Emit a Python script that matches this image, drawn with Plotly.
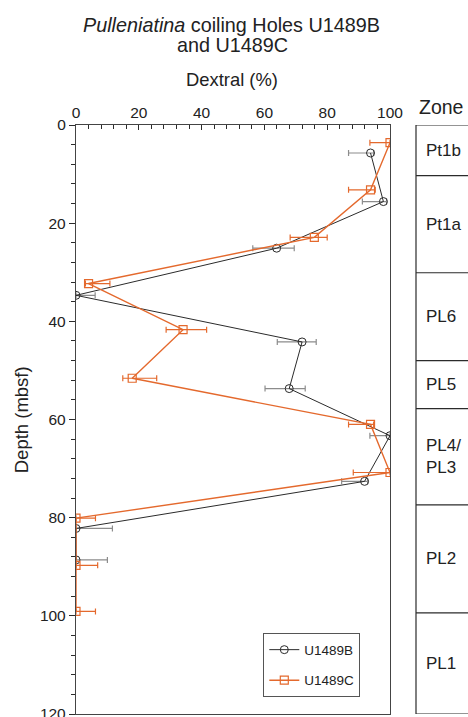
import plotly.graph_objects as go

# Hole U1489B
depth_b = [5.7, 15.6, 25.1, 34.7, 44.2, 53.7, 63.3, 72.6, 82.2, 88.6]
dextral_b = [93.8, 97.9, 63.9, 0, 72.0, 67.9, 100, 91.9, 0, 0]
err_minus_b = [7.0, 6.7, 7.6, 0, 7.9, 7.7, 6.4, 7.3, 0, 0]
err_plus_b = [1.0, 1.0, 5.6, 6.1, 4.5, 5.1, 0, 1.0, 11.6, 10.0]

# Hole U1489C
depth_c = [3.6, 13.2, 22.9, 32.3, 41.7, 51.6, 61.0, 70.8, 80.1, 89.7, 99.1]
dextral_c = [100, 93.8, 75.9, 4.0, 34.1, 17.9, 93.8, 100, 0, 0, 0]
err_minus_c = [6.4, 7.0, 7.7, 1.0, 5.4, 3.0, 7.0, 11.7, 0, 0, 0]
err_plus_c = [0, 1.5, 4.1, 6.8, 7.5, 7.8, 1.0, 0, 6.2, 6.9, 6.2]

# Biostratigraphic zones (top, bottom in mbsf)
zone_names = ["Pt1b", "Pt1a", "PL6", "PL5", "PL4/<br>PL3", "PL2", "PL1"]
zone_tops = [0, 10.3, 30.1, 48.0, 57.8, 77.4, 99.4]
zone_bottoms = [10.3, 30.1, 48.0, 57.8, 77.4, 99.4, 120]

x_ticks = [0, 20, 40, 60, 80, 100]
y_ticks = [0, 20, 40, 60, 80, 100, 120]

BLACK = "#2b2b2b"
ORANGE = "#e4692d"
GRAY = "#8c8c8c"
TEXT = "#222"
FONT = "Liberation Sans, Arial, sans-serif"

W, H = 468, 717
ML, MT, MB = 76, 124.5, 3
PW = W - ML                 # paper width in px
PH = H - MT - MB            # paper height in px


def px_x(px):
    return (px - ML) / PW


def px_y(py):
    return 1 + (MT - py) / PH


fig = go.Figure()

fig.add_trace(go.Scatter(
    x=dextral_b, y=depth_b, name="U1489B", mode="lines+markers",
    line=dict(color=BLACK, width=1),
    marker=dict(symbol="circle-open", size=8, color=BLACK, line=dict(width=1)),
    error_x=dict(type="data", symmetric=False, array=err_plus_b,
                 arrayminus=err_minus_b, color=GRAY, thickness=1.2, width=3),
    legendgroup="b",
))
fig.add_trace(go.Scatter(
    x=dextral_c, y=depth_c, name="U1489C", mode="lines+markers",
    line=dict(color=ORANGE, width=1.4),
    marker=dict(symbol="square-open", size=8, color=ORANGE, line=dict(width=1.2)),
    error_x=dict(type="data", symmetric=False, array=err_plus_c,
                 arrayminus=err_minus_c, color=ORANGE, thickness=1.2, width=3),
    legendgroup="c",
))

# Zone column to the right of the plot
zx0 = px_x(416)
shapes = [dict(type="line", xref="paper", yref="y", x0=zx0, x1=zx0,
               y0=0, y1=120, line=dict(color=BLACK, width=1.2))]
for top in zone_tops + [120]:
    shapes.append(dict(type="line", xref="paper", yref="y", x0=zx0, x1=1.05,
                       y0=top, y1=top, line=dict(color=BLACK, width=1.2)))

annotations = []
for name, top, bot in zip(zone_names, zone_tops, zone_bottoms):
    annotations.append(dict(
        text=name, xref="paper", yref="y", x=px_x(424), y=(top + bot) / 2,
        xanchor="left", yanchor="middle", align="left", showarrow=False,
        font=dict(size=17, color=TEXT, family=FONT)))

annotations += [
    dict(text="Zone", xref="paper", yref="paper", x=px_x(441), y=px_y(106.5),
         xanchor="center", yanchor="middle", showarrow=False,
         font=dict(size=19.5, color=TEXT, family=FONT)),
    dict(text="<i>Pulleniatina</i> coiling Holes U1489B",
         xref="paper", yref="paper", x=px_x(231), y=px_y(24),
         xanchor="center", yanchor="middle", showarrow=False,
         font=dict(size=19.8, color=TEXT, family=FONT)),
    dict(text="and U1489C",
         xref="paper", yref="paper", x=px_x(232), y=px_y(44),
         xanchor="center", yanchor="middle", showarrow=False,
         font=dict(size=19.8, color=TEXT, family=FONT)),
    dict(text="Dextral (%)", xref="paper", yref="paper", x=px_x(232),
         y=px_y(78.5), xanchor="center", yanchor="middle", showarrow=False,
         font=dict(size=18.4, color=TEXT, family=FONT)),
    dict(text="Depth (mbsf)", xref="paper", yref="paper", x=px_x(21),
         y=px_y(420), xanchor="center", yanchor="middle", showarrow=False,
         textangle=-90, font=dict(size=18.5, color=TEXT, family=FONT)),
]

fig.update_layout(
    width=W, height=H,
    margin=dict(l=ML, r=0, t=MT, b=MB, autoexpand=False),
    paper_bgcolor="white", plot_bgcolor="white",
    font=dict(family=FONT, size=15.5, color=TEXT),
    showlegend=True,
    legend=dict(
        x=px_x(263.3), y=px_y(633.3), xanchor="left", yanchor="top",
        bordercolor="#555", borderwidth=1, bgcolor="white",
        font=dict(size=13.5, family=FONT, color=TEXT),
        tracegroupgap=10, itemwidth=30,
    ),
    shapes=shapes,
    annotations=annotations,
    xaxis=dict(
        domain=[0, px_x(390)], range=[0, 100], side="top",
        tickvals=x_ticks, ticks="inside", ticklen=5, tickcolor=BLACK,
        minor=dict(dtick=4, ticks="inside", ticklen=4, tickcolor=BLACK),
        showline=True, linecolor="#444", linewidth=1.3, mirror=True,
        showgrid=False, zeroline=False, tickfont=dict(size=15.5),
        ticklabeloverflow="allow",
    ),
    yaxis=dict(
        range=[120, 0], tickvals=y_ticks, ticks="outside", ticklen=6,
        tickcolor=BLACK,
        minor=dict(dtick=4, ticks="outside", ticklen=4, tickcolor=BLACK),
        showline=True, linecolor="#444", linewidth=1.3, mirror=True,
        showgrid=False, zeroline=False, tickfont=dict(size=15.5),
        ticklabeloverflow="allow",
    ),
)

fig.write_html("out.html")
